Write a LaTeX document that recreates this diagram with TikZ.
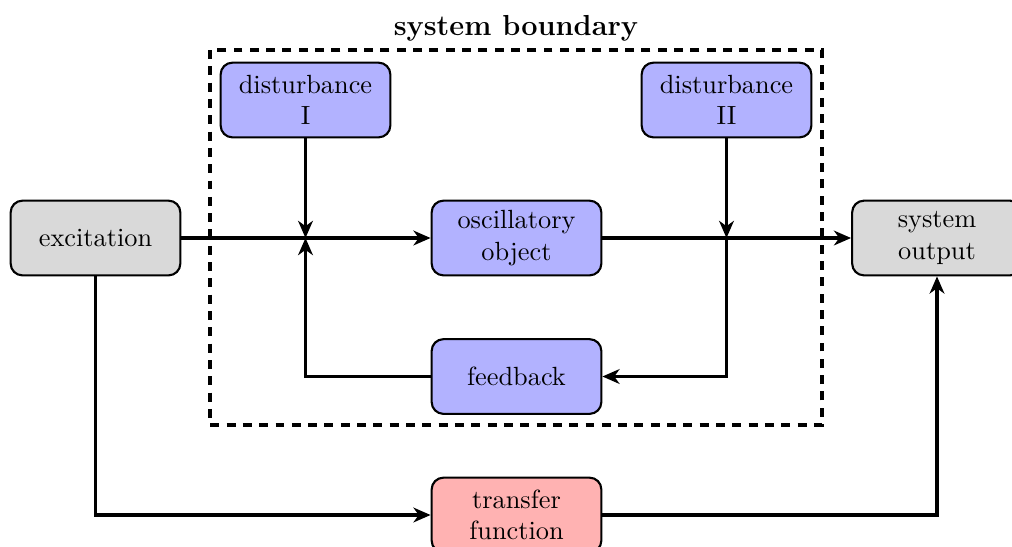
\documentclass[tikz,border=0pt]{standalone}
\usetikzlibrary{arrows.meta}
\begin{document}
\begin{tikzpicture}[x=0.38pt,y=-0.38pt,
  box/.style={draw=black, thick, rounded corners=4.5pt, minimum width=64.5pt, minimum height=28.4pt, align=center, inner sep=2pt},
  grayb/.style={box, fill=black!15},
  blueb/.style={box, fill=blue!30},
  redb/.style={box, fill=red!30},
  conn/.style={very thick, -{Stealth[length=6.5pt,width=5.6pt,inset=2pt]}},
  boundary/.style={very thick, dash pattern=on 3.4pt off 2.8pt}]
\useasboundingbox (0,0) rectangle (1012,546);
\node[grayb] (exc) at (95.5,238) {excitation};
\node[blueb] (d1) at (305.5,100) {disturbance\\I};
\node[blueb] (d2) at (726.5,100) {disturbance\\II};
\node[blueb] (osc) at (516.5,238) {oscillatory\\object};
\node[grayb] (out) at (937,238) {system\\output};
\node[blueb] (fb) at (516.5,376.5) {feedback};
\node[redb] (tf) at (516.5,515) {transfer\\function};
\draw[boundary] (210,50) rectangle (822,425);
\node[font=\fontsize{11}{13}\selectfont\bfseries] (sb) at (516,28) {system boundary};
\coordinate (j1) at (d1.south |- exc.east);
\coordinate (j2) at (d2.south |- osc.east);
\draw[conn] (exc.east) -- (osc.west);
\draw[conn] (d1.south) -- (j1);
\draw[conn] (fb.west) -| (j1);
\draw[conn] (osc.east) -- (out.west);
\draw[conn] (d2.south) -- (j2);
\draw[conn] (j2) |- (fb.east);
\draw[conn] (exc.south) |- (tf.west);
\draw[conn] (tf.east) -| (out.south);
\end{tikzpicture}
\end{document}
